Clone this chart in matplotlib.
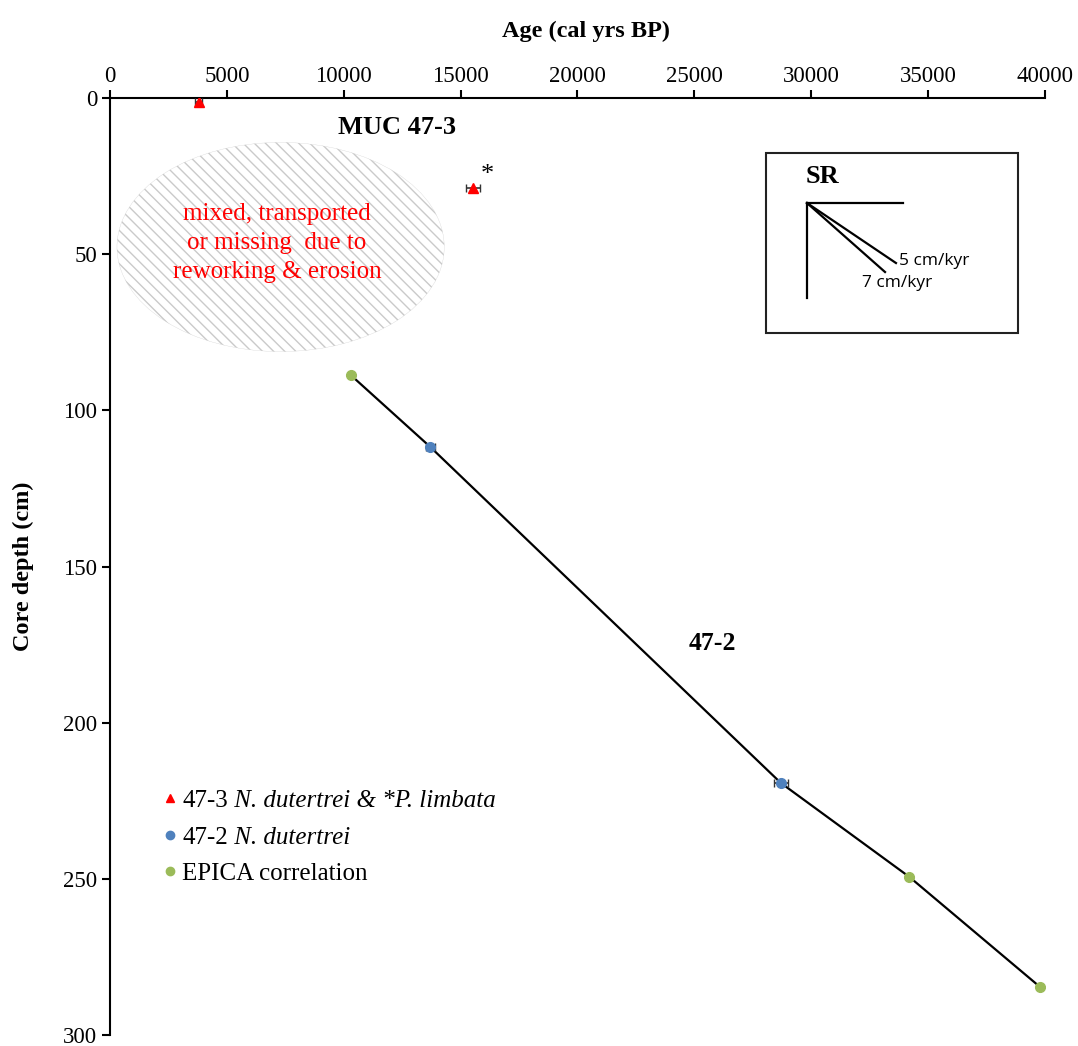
import numpy as np
import matplotlib
matplotlib.use('Agg')
import matplotlib.pyplot as plt
from matplotlib.patches import Ellipse, Rectangle
from matplotlib.lines import Line2D

# --- data ---
# 47-3 (MUC) dates
age_473 = [3800, 15550]
depth_473 = [1.3, 28.8]
err_473 = [150, 300]

# 47-2 N. dutertrei dates
age_472 = [13700, 28700]
depth_472 = [111.7, 219.3]
err_472 = [200, 300]

# EPICA correlation tie points
age_epica = [10300, 34200, 39800]
depth_epica = [88.7, 249.4, 284.7]

plt.rcParams['font.family'] = ['Liberation Serif', 'DejaVu Serif']
plt.rcParams['hatch.linewidth'] = 1.0

fig = plt.figure(figsize=(10.78, 10.46), dpi=100)
ax = fig.add_axes([0.102, 0.0105, 0.8674, 0.8958])

# age model line through 47-2 and EPICA points
ages = np.array(age_472 + age_epica)
depths = np.array(depth_472 + depth_epica)
order = np.argsort(ages)
ax.plot(ages[order], depths[order], color='black', lw=1.6, zorder=2)

# hatched zone
ell = Ellipse((7300, 47.7), 14000, 67, facecolor='none', edgecolor='#cacaca',
              linewidth=0.2, hatch='\\\\\\', zorder=1)
ax.add_patch(ell)

red = '#ff0000'
blue = '#4f81bd'
green = '#9bbb59'

ax.errorbar(age_473, depth_473, xerr=err_473, fmt='^', color=red, ms=7,
            ecolor='#333333', elinewidth=1.2, capsize=3, zorder=4)
ax.errorbar(age_472, depth_472, xerr=err_472, fmt='o', color=blue, ms=7,
            ecolor='#333333', elinewidth=1.2, capsize=3, zorder=4)
ax.plot(age_epica, depth_epica, 'o', color=green, ms=7, zorder=4)

ax.set_xlim(0, 40000)
ax.set_ylim(300, 0)
ax.set_xticks(np.arange(0, 40001, 5000))
ax.set_yticks(np.arange(0, 301, 50))
ax.xaxis.tick_top()
ax.xaxis.set_label_position('top')
for s in ['right', 'bottom']:
    ax.spines[s].set_visible(False)
for s in ['left', 'top']:
    ax.spines[s].set_linewidth(1.5)
ax.tick_params(direction='out', length=6, width=1.5, labelsize=16.5)
ax.tick_params(axis='x', pad=2)
ax.tick_params(axis='y', pad=3)
ax.set_xlabel('Age (cal yrs BP)', fontsize=17.5, fontweight='bold', labelpad=21)
ax.xaxis.label.set_x(0.5086)
ax.set_ylabel('Core depth (cm)', fontsize=17.5, fontweight='bold', labelpad=21)

# text labels
ax.text(12300, 9.6, 'MUC 47-3', fontsize=19, fontweight='bold', ha='center', va='center')
ax.text(25750, 174.5, '47-2', fontsize=18.5, fontweight='bold', ha='center', va='center')
ax.text(16150, 24.5, '*', fontsize=19, ha='center', va='center')
ax.text(7150, 46.5, 'mixed, transported\nor missing  due to\nreworking & erosion',
        color=red, fontsize=18, ha='center', va='center', linespacing=1.4)

# sedimentation rate inset
tr = ax.transAxes
ax.add_patch(Rectangle((0.7016, 0.7492), 0.2695, 0.1921, transform=tr,
                       fill=False, edgecolor='#222222', lw=1.5))
ax.text(0.7625, 0.9157, 'SR', transform=tr, fontsize=19, fontweight='bold',
        ha='center', va='center')
ox, oy = 0.7455, 0.8879
for (x2, y2) in [(0.8481, oy), (ox, 0.7866), (0.8406, 0.8239), (0.8289, 0.8143)]:
    ax.add_line(Line2D([ox, x2], [oy, y2], transform=tr, color='black', lw=1.6))
ax.text(0.8439, 0.8260, '5 cm/kyr', transform=tr, fontsize=12.5, family='Open Sans',
        ha='left', va='center')
ax.text(0.8043, 0.8026, '7 cm/kyr', transform=tr, fontsize=12.5, family='Open Sans',
        ha='left', va='center')

# legend
handles = [
    Line2D([], [], marker='^', color=red, ls='none', ms=6),
    Line2D([], [], marker='o', color=blue, ls='none', ms=6),
    Line2D([], [], marker='o', color=green, ls='none', ms=6),
]
labels = ['47-3', '47-2', 'EPICA correlation']
leg = ax.legend(handles, labels, loc='upper left', bbox_to_anchor=(0.0454, 0.2726),
                frameon=False, fontsize=18, handlelength=0.6, handletextpad=0.2,
                labelspacing=0.56, borderaxespad=0)
fig.canvas.draw()
italics = [' N. dutertrei & *P. limbata', ' N. dutertrei']
for t, extra in zip(leg.get_texts(), italics):
    bb = t.get_window_extent()
    fig.text(bb.x1, bb.y0, extra, transform=None, fontsize=18, style='italic',
             ha='left', va='bottom')

fig.savefig('out.png', dpi=100)
